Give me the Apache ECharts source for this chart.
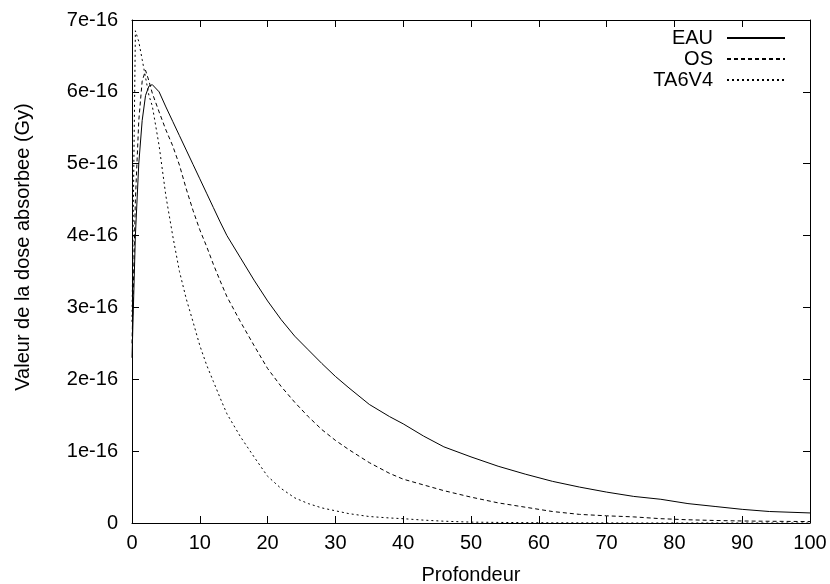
<!DOCTYPE html>
<html>
<head>
<meta charset="utf-8">
<script src="https://cdn.jsdelivr.net/npm/echarts@6/dist/echarts.min.js"></script>
<style>
  html, body { margin: 0; padding: 0; background: #fff; }
  #chart { width: 830px; height: 584px; }
</style>
</head>
<body>
<div id="chart"></div>
<script>
// Depth (Profondeur)
var depth = [0, 0.5, 1, 1.5, 2, 2.5, 3, 4, 5, 6, 7, 8, 9, 10, 11, 12, 13, 14, 16, 18, 20, 22, 24, 26, 28, 30, 32, 35, 38, 40, 43, 46, 50, 54, 58, 62, 66, 70, 74, 78, 82, 86, 90, 94, 100];
// Absorbed dose, in units of 1e-16 Gy
var doseEAU = [2.3, 4.0, 5.0, 5.6, 5.95, 6.08, 6.1, 6.0, 5.79, 5.59, 5.39, 5.19, 4.99, 4.79, 4.59, 4.39, 4.19, 4.0, 3.69, 3.38, 3.09, 2.83, 2.6, 2.41, 2.22, 2.04, 1.88, 1.65, 1.48, 1.38, 1.21, 1.06, 0.92, 0.79, 0.68, 0.58, 0.5, 0.43, 0.37, 0.33, 0.27, 0.23, 0.19, 0.16, 0.14];
var doseOS = [2.5, 4.5, 5.6, 6.15, 6.3, 6.15, 5.98, 5.72, 5.47, 5.25, 4.98, 4.65, 4.35, 4.08, 3.85, 3.6, 3.37, 3.15, 2.8, 2.47, 2.15, 1.9, 1.68, 1.48, 1.3, 1.15, 1.02, 0.84, 0.69, 0.61, 0.53, 0.45, 0.36, 0.28, 0.22, 0.16, 0.12, 0.1, 0.085, 0.06, 0.045, 0.035, 0.028, 0.024, 0.02];
var doseTA6V4 = [2.8, 6.85, 6.7, 6.45, 6.2, 5.95, 5.8, 5.25, 4.55, 4.0, 3.5, 3.12, 2.8, 2.47, 2.2, 1.97, 1.74, 1.52, 1.2, 0.92, 0.65, 0.48, 0.35, 0.27, 0.21, 0.17, 0.13, 0.09, 0.07, 0.06, 0.04, 0.025, 0.012, 0.008, 0.005, 0.003, 0.002, 0.001, 0, 0, 0, 0, 0, 0, 0];
var seriesNames = ['EAU', 'OS', 'TA6V4'];
var xTicks = [0, 10, 20, 30, 40, 50, 60, 70, 80, 90, 100];
var yTickLabels = ['0', '1e-16', '2e-16', '3e-16', '4e-16', '5e-16', '6e-16', '7e-16'];

function pairs(ys) { return depth.map(function (d, i) { return [d, ys[i]]; }); }

var FONT = '"Liberation Sans", Arial, Helvetica, sans-serif';
var chart = echarts.init(document.getElementById('chart'), null, { renderer: 'canvas' });

var tickStyle = { show: true, inside: true, length: 7, lineStyle: { color: '#000', width: 1 } };
var lineStyleAxis = { show: true, onZero: false, lineStyle: { color: '#000', width: 1 } };

chart.setOption({
  animation: false,
  backgroundColor: '#fff',
  grid: { left: 132, right: 20, top: 20, bottom: 61, containLabel: false, outerBoundsMode: 'none' },
  legend: {
    orient: 'vertical',
    align: 'right',
    right: 39,
    top: 23,
    itemWidth: 58,
    itemHeight: 14,
    itemGap: 1,
    data: seriesNames,
    itemStyle: { opacity: 0 },
    textStyle: { fontFamily: FONT, fontSize: 20, color: '#000', padding: [0, 9, 0, 0] },
    inactiveColor: '#000'
  },
  xAxis: [{
    type: 'value', min: 0, max: 100, interval: 10,
    name: 'Profondeur', nameLocation: 'middle', nameGap: 42,
    nameTextStyle: { fontFamily: FONT, fontSize: 20, color: '#000' },
    axisLine: lineStyleAxis, axisTick: tickStyle,
    axisLabel: { fontFamily: FONT, fontSize: 20, color: '#000', margin: 10,
      formatter: function (v) { return xTicks.indexOf(v) >= 0 ? String(v) : ''; } },
    splitLine: { show: false }
  }, {
    type: 'value', position: 'top', min: 0, max: 100, interval: 10,
    axisLine: lineStyleAxis, axisTick: tickStyle, axisLabel: { show: false }, splitLine: { show: false }
  }],
  yAxis: [{
    type: 'value', min: 0, max: 7, interval: 1,
    name: 'Valeur de la dose absorbee (Gy)', nameLocation: 'middle', nameGap: 99,
    nameTextStyle: { fontFamily: FONT, fontSize: 20, color: '#000', padding: [0, 0, 0, 49] },
    axisLine: lineStyleAxis, axisTick: tickStyle,
    axisLabel: { fontFamily: FONT, fontSize: 20, color: '#000', margin: 14,
      formatter: function (v) { return yTickLabels[Math.round(v)]; } },
    splitLine: { show: false }
  }, {
    type: 'value', position: 'right', min: 0, max: 7, interval: 1,
    axisLine: lineStyleAxis, axisTick: tickStyle, axisLabel: { show: false }, splitLine: { show: false }
  }],
  series: [
    { name: seriesNames[0], type: 'line', data: pairs(doseEAU), showSymbol: false, symbol: 'none',
      color: '#000', lineStyle: { color: '#000', width: 1, type: 'solid' } },
    { name: seriesNames[1], type: 'line', data: pairs(doseOS), showSymbol: false, symbol: 'none',
      color: '#000', lineStyle: { color: '#000', width: 1, type: [4, 3] } },
    { name: seriesNames[2], type: 'line', data: pairs(doseTA6V4), showSymbol: false, symbol: 'none',
      color: '#000', lineStyle: { color: '#000', width: 1, type: [2, 3] } }
  ]
});
</script>
</body>
</html>
